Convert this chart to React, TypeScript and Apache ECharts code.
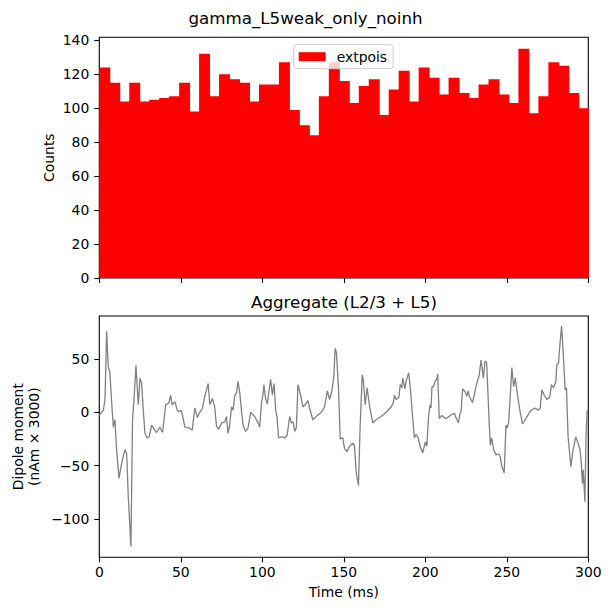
import React, { useEffect, useRef } from "react";
import * as echarts from "echarts";

// ---- Data ----
const FIG_TITLE = "gamma_L5weak_only_noinh";
const HIST_TITLE_SERIES = "extpois";
const DIPOLE_TITLE = "Aggregate (L2/3 + L5)";

// spike histogram counts, bins over 0..300 ms
const histCounts: number[] = [
  124, 115, 104, 115, 104, 105, 106, 107, 115, 98, 132, 107, 120, 117, 115, 104,
  114, 114, 127, 99, 90, 84, 107, 127, 116, 103, 113, 117, 96, 111, 122, 104,
  124, 118, 108, 118, 109, 106, 114, 117, 108, 103, 135, 97, 107, 127, 125, 109, 100,
];
const HIST_RANGE = 300; // ms covered by the shown bins

// dipole trace (time in ms, value in nAm x 3000)
const dipoleTimes: number[] = [
  0, 2.5, 3.5, 4.5, 5.5, 6.5, 7.6, 8.6, 9.6, 10.6, 12.1, 13.7, 15.7, 16.8, 17.8, 19.4,
  20.4, 21.3, 22.5, 23.9, 24.3, 24.9, 25.9, 27, 28, 29.4, 30.6, 32.1, 34.1, 35.1, 37.2,
  38.8, 40.8, 42.7, 43.7, 44.7, 46.4, 47.8, 49, 50.2, 51, 52.5, 55.5, 57, 58.6, 60.2,
  61.6, 63.1, 64.7, 65.8, 66.8, 67.8, 69.4, 70.8, 71.9, 73.3, 75, 77, 78, 79, 80, 81.1,
  82.1, 83.1, 84.2, 85.1, 86.2, 87.2, 88.2, 89.8, 91.2, 92.9, 95.3, 97.4, 98.4, 99.4,
  100.4, 101, 102, 103.1, 104.2, 105.1, 106.2, 107.2, 108.2, 109, 110, 111.7, 114.1,
  115.3, 116.8, 117.8, 118.9, 119.9, 120.9, 121.9, 123.5, 124.9, 126.3, 128, 129, 131,
  133.1, 136.2, 138.2, 139.9, 141.3, 142.7, 143.9, 144.7, 145.5, 146.8, 147.8, 149.4,
  150.4, 151.9, 153.5, 155.5, 156.6, 157.6, 159, 160, 161.3, 162, 163.1, 164.3, 165.7,
  167.8, 169.8, 172.9, 176, 179, 180.4, 181.1, 182.1, 183.8, 184.6, 185.6, 186.2, 187.4,
  188.2, 189.8, 190.6, 191.9, 193.3, 194.3, 195.7, 196.8, 198.4, 200, 200.9, 202, 202.9,
  203.5, 204.1, 205.1, 205.9, 207, 207.6, 208.6, 210.3, 212.7, 215.8, 217.8, 218.8,
  220.3, 221.3, 222, 222.9, 224.5, 225.5, 226.3, 227, 229, 231.1, 232.1, 233.1, 234.2,
  234.8, 235.6, 236.6, 237.6, 238.2, 239.2, 239.9, 240.7, 241.9, 243.4, 245, 246, 247,
  248.4, 249.5, 250.1, 251.1, 252.1, 253.1, 254.2, 255.2, 256.6, 258, 259.6, 261.7,
  264.4, 267.2, 269.3, 270.5, 271.5, 273, 274.6, 276.3, 277.4, 278.7, 280.1, 280.7,
  281.7, 282.5, 283.6, 284.6, 285.8, 286.6, 287.6, 289.3, 290.7, 292.3, 293.7, 294.9,
  295.7, 296.4, 296.9, 297.9, 298.6, 299.3,
];
const dipoleValues: number[] = [
  -3, 2, 12, 76, 43, 37, 9, -14, -7, -35, -62, -48, -35, -39, -80, -126,
  -7, 12, 44, 7, 15, 32, 28, 2, -20, -24, -23, -12, -17, -19, -14,
  -19, 7.5, 8.5, 16, 7, 10, 2, 0.5, 2, -2.5, -14, -15, -17, 4, -5,
  0, 3, 15, 21, 27, 7, 13, 5, -13, -16, -10, -9, -4, -20, -12, 5,
  2, 16, 18, 29, 18, 2, -12, -18, -15, 0, -4, -10, -14, 8,
  16, 26, 13, 8, 21, 31, 16, 27, 2, -4, -24, -23, -24,
  -21, -4, -10, -9, -18, -14, 26, 16, 5, 7, 11, 4, -7,
  -4, 0, 5, 20, 12, 20, 34, 60, 56, 21, -25, -24,
  -34, -37, -32, -29, -32, -56, -69, -14, 35, 30, 7, 23, 7,
  -10, -7, -4, 0, 5, 9, 16, 12, 14, 26, 23, 32, 22,
  29, 37, 26, 2, -24, -21, -24, -32, -38, -28, -32, -4, 7,
  4, 24, 24, 29, 31, 36, -6, -3, -6, -2.5, -1, -5,
  -10, -1, 1, 22, 19, 15, 20, 15, 9, 24, 30, 35, 49,
  42, 32, 48, 47, 26, -10, -31, -24, -35, -40, -39, -42, -51,
  -57, -12, -15, -10, 15, 42, 24, 32, 16, 2, -11, -6,
  1, 4, 2, 4, 21, 16, 12, 14, 26, 23, 29, 45,
  46, 62, 81, 56, 21, 23, -23, -51, -35, -23, -29, -35,
  -48, -67, -54, -84, -23, 2,
];

const histYTicks = [0, 20, 40, 60, 80, 100, 120, 140];
const dipoleYTicks = [-100, -50, 0, 50];
const timeTicks = [0, 50, 100, 150, 200, 250, 300];

const FONT = "DejaVu Sans";
const minus = (v: number | string) => String(v).replace("-", "\u2212");

export default function App() {
  const ref = useRef<HTMLDivElement>(null);

  useEffect(() => {
    document.body.style.margin = "0";
    if (!ref.current) return;
    const chart = echarts.init(ref.current, undefined, { renderer: "svg" });

    const binW = HIST_RANGE / histCounts.length;
    const histData = histCounts.map((c, i) => [i * binW, (i + 1) * binW, c]);
    const dipoleData = dipoleTimes.map((t, i) => [t, dipoleValues[i]]);

    const tickStyle = { color: "#000", width: 1.1 };
    const labelStyle = { color: "#000", fontFamily: FONT, fontSize: 13.9 };

    const option: any = {
      animation: false,
      textStyle: { fontFamily: FONT },
      title: {
        text: FIG_TITLE,
        left: "center",
        top: 4,
        textStyle: { fontFamily: FONT, fontSize: 16.7, fontWeight: "normal", color: "#000" },
      },
      legend: {
        data: [HIST_TITLE_SERIES],
        left: 293.7,
        top: 44.7,
        padding: [5, 6, 5, 5],
        icon: "rect",
        itemWidth: 27,
        itemHeight: 9,
        selectedMode: false,
        backgroundColor: "rgba(255,255,255,0.8)",
        borderColor: "#cccccc",
        borderWidth: 1,
        borderRadius: 3,
        textStyle: { fontFamily: FONT, fontSize: 13.9, color: "#000", lineHeight: 14, padding: [0, 0, 0, 6] },
      },
      grid: [
        {
          left: 99.3, top: 37.3, width: 489, height: 240.7,
          show: true, borderColor: "#000", borderWidth: 1.1, backgroundColor: "transparent",
          outerBoundsMode: "none",
        },
        {
          left: 99.3, top: 316, width: 489, height: 241.3,
          show: true, borderColor: "#000", borderWidth: 1.1, backgroundColor: "transparent",
          outerBoundsMode: "none",
        },
      ],
      xAxis: [
        {
          type: "value", gridIndex: 0, min: 0, max: 300, interval: 50, position: "bottom",
          axisLine: { show: false, onZero: false }, splitLine: { show: false },
          axisTick: { show: true, length: 5, lineStyle: tickStyle, customValues: timeTicks },
          axisLabel: { show: false },
        },
        {
          type: "value", gridIndex: 1, min: 0, max: 300, interval: 50, position: "bottom",
          axisLine: { show: false, onZero: false }, splitLine: { show: false },
          axisTick: { show: true, length: 5, lineStyle: tickStyle, customValues: timeTicks },
          axisLabel: { ...labelStyle, margin: 8, customValues: timeTicks, formatter: minus },
          name: "Time (ms)", nameLocation: "middle", nameGap: 28, nameMoveOverlap: false,
          nameTextStyle: { fontFamily: FONT, fontSize: 13.9, color: "#000" },
        },
      ],
      yAxis: [
        {
          type: "value", gridIndex: 0, min: 0, max: 141.75, position: "left",
          axisLine: { show: false, onZero: false }, splitLine: { show: false },
          axisTick: { show: true, length: 5, lineStyle: tickStyle, customValues: histYTicks },
          axisLabel: { ...labelStyle, margin: 10, customValues: histYTicks, formatter: minus },
          name: "Counts", nameLocation: "middle", nameGap: 43, nameMoveOverlap: false,
          nameTextStyle: { fontFamily: FONT, fontSize: 13.9, color: "#000" },
        },
        {
          type: "value", gridIndex: 1, min: -136.2, max: 90.4, position: "left",
          axisLine: { show: false, onZero: false }, splitLine: { show: false },
          axisTick: { show: true, length: 5, lineStyle: tickStyle, customValues: dipoleYTicks },
          axisLabel: { ...labelStyle, margin: 10, customValues: dipoleYTicks, formatter: minus },
          name: "Dipole moment\n(nAm \u00d7 3000)", nameLocation: "middle", nameGap: 57, nameMoveOverlap: false,
          nameTextStyle: { fontFamily: FONT, fontSize: 13.9, color: "#000", lineHeight: 16.5, align: "center" },
        },
      ],
      graphic: [
        {
          type: "text",
          x: 344,
          y: 302,
          style: {
            text: DIPOLE_TITLE,
            fontFamily: FONT,
            fontSize: 16.7,
            fill: "#000",
            align: "center",
            verticalAlign: "middle",
          },
        },
      ],
      series: [
        {
          name: HIST_TITLE_SERIES,
          type: "custom",
          xAxisIndex: 0,
          yAxisIndex: 0,
          itemStyle: { color: "#ff0000" },
          encode: { x: [0, 1], y: 2 },
          data: histData,
          clip: true,
          z: 1,
          renderItem: (params: any, api: any) => {
            const p0 = api.coord([api.value(0), api.value(2)]);
            const p1 = api.coord([api.value(1), 0]);
            return {
              type: "rect",
              shape: { x: p0[0], y: p0[1], width: p1[0] - p0[0] + 1, height: p1[1] - p0[1] },
              style: { fill: "#ff0000" },
            };
          },
        },
        {
          name: "dipole",
          type: "line",
          xAxisIndex: 1,
          yAxisIndex: 1,
          data: dipoleData,
          showSymbol: false,
          symbol: "none",
          lineStyle: { color: "#808080", width: 1.3 },
          itemStyle: { color: "#808080" },
        },
      ],
    };

    chart.setOption(option);
    return () => chart.dispose();
  }, []);

  return <div ref={ref} style={{ width: 611, height: 611 }} />;
}
